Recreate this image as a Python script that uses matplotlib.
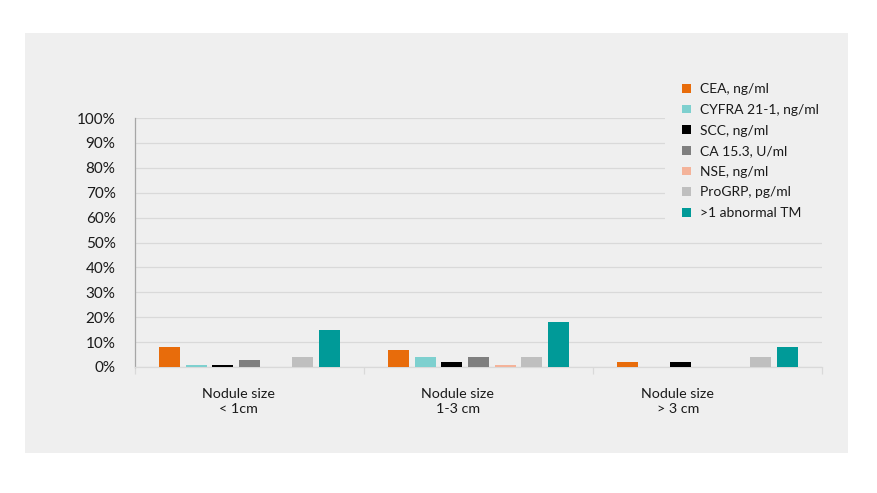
import numpy as np
import matplotlib
matplotlib.use("Agg")
import matplotlib.pyplot as plt
from matplotlib.patches import Rectangle
from matplotlib.ticker import PercentFormatter, FixedLocator

categories = ["Nodule size\n< 1cm", "Nodule size\n1-3 cm", "Nodule size\n> 3 cm"]
series_names = ["CEA, ng/ml", "CYFRA 21-1, ng/ml", "SCC, ng/ml", "CA 15.3, U/ml",
                "NSE, ng/ml", "ProGRP, pg/ml", ">1 abnormal TM"]
cea = [8, 7, 2]
cyfra = [1, 4, 0]
scc = [1, 2, 2]
ca153 = [3, 4, 0]
nse = [0, 1, 0]
progrp = [4, 4, 4]
abnormal_tm = [15, 18, 8]
series_values = [cea, cyfra, scc, ca153, nse, progrp, abnormal_tm]
colors = ["#E86C0B", "#7ED0CF", "#000000", "#7F7F7F", "#F4B39A", "#BFBFBF", "#009A98"]

plt.rcParams['font.family'] = ['Lato', 'DejaVu Sans']
bg = "#EFEFEF"

fig = plt.figure(figsize=(8.77, 4.93), dpi=100)
fig.patch.set_facecolor("white")
# grey slide panel
fig.patches.append(Rectangle((25 / 877, 1 - 453 / 493), 823 / 877, 420 / 493,
                             transform=fig.transFigure, facecolor=bg, edgecolor="none", zorder=-5))

ax = fig.add_axes([135 / 877, 1 - 367 / 493, 687 / 877, 249 / 493])
ax.set_facecolor("none")

x = np.arange(len(categories))
pitch = 0.1166
width = 0.092
for j, (name, vals) in enumerate(zip(series_names, series_values)):
    ax.bar(x + (j - 3) * pitch, np.array(vals) / 100, width, color=colors[j], label=name, zorder=3)

ax.set_xlim(-0.5, 2.5)
ax.set_ylim(0, 1)
ax.yaxis.set_major_locator(FixedLocator(np.linspace(0, 1, 11)))
ax.yaxis.set_major_formatter(PercentFormatter(1.0, decimals=0))
ax.tick_params(axis="y", length=0, pad=14, labelsize=11, labelcolor="#1a1a1a")
ax.grid(axis="y", color="#D9D9D9", linewidth=0.9, zorder=0)

# category boundary ticks, labels placed under each group
ax.set_xticks([-0.5, 0.5, 1.5, 2.5])
ax.set_xticklabels([])
ax.tick_params(axis="x", length=5, color="#D9D9D9", width=0.9)
for i, lab in enumerate(categories):
    ax.text(i * 0.96 - 0.05, -0.085, lab, ha="center", va="top", fontsize=10.3,
            color="#1a1a1a", linespacing=1.3, transform=ax.get_xaxis_transform())

for s in ["top", "right"]:
    ax.spines[s].set_visible(False)
ax.spines["left"].set_color("#A6A6A6")
ax.spines["left"].set_linewidth(0.9)
ax.spines["bottom"].set_color("#D9D9D9")
ax.spines["bottom"].set_linewidth(0.9)

leg = ax.legend(loc="upper left", bbox_to_anchor=(665 / 877, 1 - 66 / 493),
                bbox_transform=fig.transFigure, frameon=True, fontsize=10,
                handlelength=0.6, handleheight=0.6, handletextpad=0.7,
                labelspacing=0.62, borderpad=1.25, borderaxespad=0, fancybox=False)
leg.get_frame().set_facecolor(bg)
leg.get_frame().set_edgecolor("none")
leg.get_frame().set_alpha(1)
for t in leg.get_texts():
    t.set_color("#1a1a1a")

fig.savefig("out.png", dpi=100)
